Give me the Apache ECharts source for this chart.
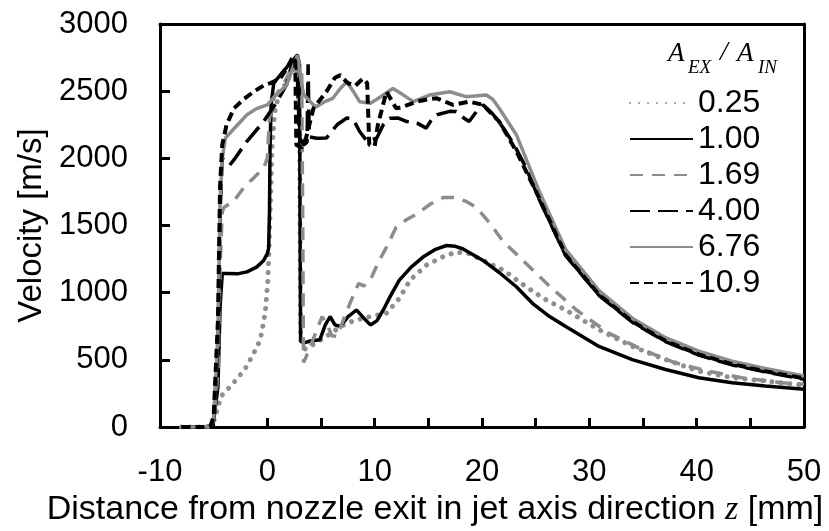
<!DOCTYPE html>
<html>
<head>
<meta charset="utf-8">
<script src="https://cdn.jsdelivr.net/npm/echarts@6/dist/echarts.min.js"></script>
<style>html,body{margin:0;padding:0;background:#fff}#c{width:829px;height:531px}</style>
</head>
<body>
<div id="c"></div>
<script>
// Series names (A_EX / A_IN)
const seriesNames = ['0.25', '1.00', '1.69', '4.00', '6.76', '10.9'];
const xTicks = [-10, 0, 10, 20, 30, 40, 50];
const yTicks = [0, 500, 1000, 1500, 2000, 2500, 3000];

// [z (mm), velocity (m/s)]
const ratio025 = [[-8,0],[-6,0],[-5.3,5],[-5.0,40],[-4.6,150],[-4.3,230],[-3.4,305],[-2.6,380],[-1.9,453],[-1.2,560],[-0.65,650],[-0.2,849],[0.05,1093],[0.15,1300],[0.3,1700],[0.45,2100],[0.7,2350],[1.0,2450],[2.0,2600],[2.7,2720],[3.0,2300],[3.1,650],[3.5,580],[4.0,600],[5,650],[6,700],[6.8,748],[8,790],[9.5,820],[11.1,847],[12.3,958],[13.3,1093],[14.8,1204],[16.3,1265],[17.6,1302],[18.8,1290],[20.1,1240],[22.0,1167],[24.1,1044],[26.0,945],[27.8,871],[30.9,724],[34.0,600],[37.1,502],[40.2,416],[43.3,367],[46.4,342],[50,310]];
const ratio100 = [[-8,0],[-6,0],[-5.3,5],[-5.0,50],[-4.6,300],[-4.4,900],[-4.2,1142],[-3.7,1142],[-2.8,1140],[-1.9,1155],[-1.0,1190],[-0.34,1240],[0.0,1290],[0.12,1330],[0.2,1600],[0.25,2077],[0.35,2400],[0.6,2560],[1.5,2650],[2.3,2720],[2.8,2770],[3.0,2700],[3.05,1500],[3.1,640],[3.5,628],[4.0,640],[4.9,650],[5.4,760],[5.85,822],[6.3,760],[6.8,748],[7.5,820],[8.3,871],[9.0,810],[9.6,760],[10.2,790],[10.8,871],[11.5,980],[12.3,1093],[13.4,1190],[14.5,1265],[15.6,1320],[16.7,1351],[17.5,1345],[18.2,1327],[20.1,1240],[21.6,1150],[23.2,1044],[24.7,921],[26.3,822],[27.8,748],[30.9,600],[34.0,502],[37.1,428],[40.2,367],[43.3,330],[46.4,305],[50,281]];
const ratio169 = [[-8,0],[-6,0],[-5.3,5],[-5.0,50],[-4.6,400],[-4.4,1200],[-4.2,1600],[-4.05,1634],[-3.1,1684],[-2.2,1782],[-1.2,1860],[-0.34,1930],[0.0,2000],[0.2,2300],[0.6,2450],[1.5,2550],[2.3,2680],[2.8,2750],[3.2,2650],[3.3,1500],[3.37,480],[3.6,520],[4.0,600],[4.6,720],[5.1,822],[5.6,760],[6.0,680],[6.5,674],[7.1,800],[7.7,921],[8.5,1068],[9.0,1050],[9.6,1093],[10.3,1220],[11.1,1339],[12.0,1487],[13.0,1545],[13.9,1585],[15.2,1660],[16.4,1708],[17.6,1708],[18.5,1680],[19.5,1634],[20.7,1520],[21.9,1388],[23.8,1240],[26.2,1055],[28.8,871],[31.8,699],[34.9,576],[38.0,478],[41.1,416],[44.2,367],[47.9,330],[50,318]];
const ratio400 = [[-8,0],[-6,0],[-5.3,5],[-5.0,60],[-4.6,600],[-4.4,1600],[-4.2,2000],[-3.5,1950],[-3.1,1990],[-1.9,2127],[-0.34,2274],[0.9,2422],[1.8,2550],[2.3,2700],[2.6,2720],[2.8,2600],[3.0,2150],[3.4,2100],[3.7,2120],[3.8,2700],[3.9,2160],[4.6,2150],[5.5,2151],[6.5,2250],[7.4,2300],[8.0,2290],[8.6,2200],[9.3,2127],[10.2,2151],[10.8,2250],[11.4,2299],[12.2,2300],[13.0,2274],[14.0,2260],[14.8,2225],[15.4,2300],[15.8,2324],[17.0,2350],[17.6,2348],[18.3,2300],[18.8,2274],[19.5,2350],[20.1,2398],[21.0,2330],[22.0,2225],[23.0,2100],[24.1,1930],[25.3,1700],[27.8,1275],[30.9,980],[34.0,780],[37.1,635],[40.2,535],[43.3,462],[46.4,410],[50,355]];
const ratio676 = [[-8,0],[-6,0],[-5.3,5],[-5.0,60],[-4.6,700],[-4.4,1700],[-4.2,2000],[-3.9,2151],[-3.0,2230],[-1.9,2324],[-1.0,2370],[0,2398],[0.8,2470],[1.8,2545],[2.4,2680],[2.8,2767],[3.1,2600],[3.4,2471],[4.3,2398],[4.6,2385],[5.3,2420],[6.1,2447],[6.8,2520],[7.4,2570],[8.0,2500],[8.6,2422],[9.6,2410],[10.6,2460],[11.7,2520],[12.5,2480],[13.6,2422],[15.1,2471],[17.0,2496],[18.5,2459],[20.4,2471],[21.0,2440],[21.6,2373],[23.2,2176],[25.3,1760],[27.8,1320],[30.9,1015],[34.0,810],[37.1,665],[40.2,565],[43.3,490],[46.4,435],[50,380]];
const ratio109 = [[-8,0],[-6,0],[-5.3,5],[-5.0,80],[-4.6,800],[-4.4,1800],[-4.2,2100],[-3.8,2250],[-3.1,2373],[-2.2,2440],[-1.27,2496],[-0.3,2545],[0.3,2560],[1.2,2594],[1.8,2668],[2.4,2760],[2.6,2720],[2.7,2100],[3.2,2080],[3.6,2150],[4.3,2373],[5.5,2496],[6.3,2600],[6.8,2619],[7.5,2560],[8.2,2540],[8.9,2594],[9.3,2560],[9.5,2100],[10.0,2090],[10.3,2250],[11.1,2496],[12.0,2373],[12.5,2380],[13.9,2422],[15.0,2440],[15.8,2447],[17.3,2398],[18.8,2422],[20.1,2398],[21.6,2274],[23.2,2053],[25.0,1758],[27.8,1280],[30.9,985],[34.0,785],[37.1,640],[40.2,540],[43.3,468],[46.4,415],[50,362]];

const seriesData = [ratio025, ratio100, ratio169, ratio400, ratio676, ratio109];
const GRAY = '#8c8c8c';
const styles = [
  {color: '#8f8f8f', width: 5, type: [0.01, 9], cap: 'round'},
  {color: '#000000', width: 3.5, type: 'solid'},
  {color: GRAY, width: 3.5, type: [13, 9]},
  {color: '#000000', width: 3.5, type: [20, 8]},
  {color: GRAY, width: 3.5, type: 'solid'},
  {color: '#000000', width: 4, type: [9, 5]}
];
const FONT = 'Liberation Sans, Arial, sans-serif';
const SERIF = 'Liberation Serif, Times New Roman, serif';
const frameAxis = {show: true, axisLine: {show: true, onZero: false, lineStyle: {color: '#000', width: 3}},
  axisTick: {show: false}, axisLabel: {show: false}, splitLine: {show: false}};

const chart = echarts.init(document.getElementById('c'), null, {renderer: 'canvas'});
chart.setOption({
  animation: false,
  backgroundColor: '#fff',
  grid: {left: 160, right: 25, top: 24, bottom: 104, show: false, containLabel: false, outerBoundsMode: 'none'},
  xAxis: [{
    type: 'value', min: -10, max: 50, interval: 5,
    axisLine: {show: true, onZero: false, lineStyle: {color: '#000', width: 3}},
    axisTick: {show: true, inside: true, length: 9, lineStyle: {color: '#000', width: 3}},
    splitLine: {show: false},
    axisLabel: {margin: 30, color: '#000', fontSize: 31, fontFamily: FONT,
      formatter: v => xTicks.indexOf(v) >= 0 ? String(v) : ''},
    name: 'Distance from nozzle exit in jet axis direction {z|z} [mm]',
    nameLocation: 'middle', nameGap: 61,
    nameTextStyle: {color: '#000', fontSize: 34, fontFamily: FONT, padding: [0, 94, 0, 0],
      rich: {z: {fontStyle: 'italic', fontFamily: SERIF, fontSize: 34, color: '#000'}}}
  }, Object.assign({type: 'value', min: -10, max: 50, position: 'top'}, frameAxis)],
  yAxis: [{
    type: 'value', min: 0, max: 3000, interval: 500,
    axisLine: {show: true, onZero: false, lineStyle: {color: '#000', width: 3}},
    axisTick: {show: true, inside: true, length: 10, lineStyle: {color: '#000', width: 3}},
    splitLine: {show: false},
    axisLabel: {margin: 32, color: '#000', fontSize: 31, fontFamily: FONT,
      formatter: v => yTicks.indexOf(v) >= 0 ? String(v) : ''},
    name: 'Velocity [m/s]', nameLocation: 'middle', nameGap: 112,
    nameTextStyle: {color: '#000', fontSize: 33, fontFamily: FONT}
  }, Object.assign({type: 'value', min: 0, max: 3000, position: 'right'}, frameAxis)],
  legend: {
    orient: 'vertical', left: 624, top: 80, itemWidth: 63, itemHeight: 14, itemGap: 0,
    data: seriesNames,
    itemStyle: {opacity: 0},
    textStyle: {color: '#000', fontSize: 32, fontFamily: FONT, lineHeight: 36}
  },
  graphic: [
    {type: 'text', left: 668, top: 40, style: {text: 'A', font: 'italic 27px ' + SERIF, fill: '#000'}},
    {type: 'text', left: 688, top: 58, style: {text: 'EX', font: 'italic 19px ' + SERIF, fill: '#000'}},
    {type: 'text', left: 720, top: 39, style: {text: '/', font: 'italic 28px ' + SERIF, fill: '#000'}},
    {type: 'text', left: 737, top: 40, style: {text: 'A', font: 'italic 27px ' + SERIF, fill: '#000'}},
    {type: 'text', left: 758, top: 58, style: {text: 'IN', font: 'italic 19px ' + SERIF, fill: '#000'}}
  ],
  series: seriesNames.map((n, i) => ({
    name: n, type: 'line', data: seriesData[i], showSymbol: false, symbol: 'none',
    lineStyle: styles[i], itemStyle: {color: styles[i].color},
    smooth: false, z: 2
  }))
});
</script>
</body>
</html>
